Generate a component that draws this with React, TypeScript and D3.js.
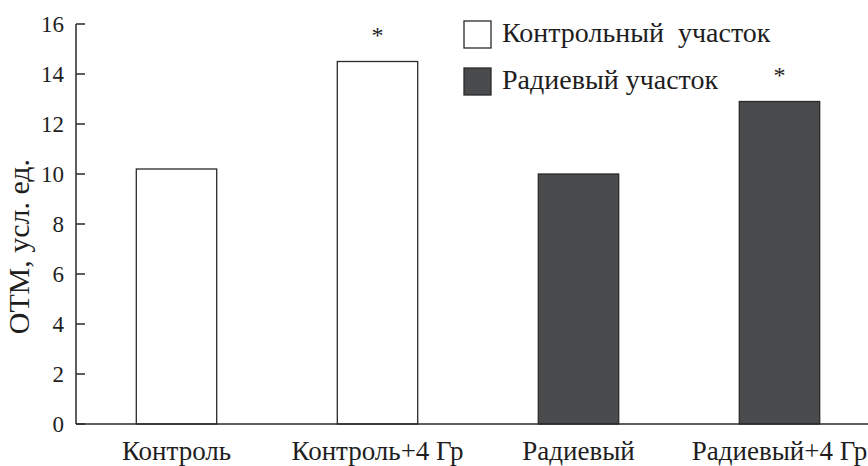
import React from "react";
import * as d3 from "d3";

const categories = ["Контроль", "Контроль+4 Гр", "Радиевый", "Радиевый+4 Гр"];
const values = [10.2, 14.5, 10.0, 12.9];
const groups = ["control", "control", "radium", "radium"];
const significant = [false, true, false, true];
const yTicks = [0, 2, 4, 6, 8, 10, 12, 14, 16];
const legendLabels = ["Контрольный  участок", "Радиевый участок"];
const legendGroups = ["control", "radium"];
const yTitle = "ОТМ, усл. ед.";

const W = 868;
const H = 466;
const FONT = '"Times New Roman", "Liberation Serif", Tinos, serif';
const fillFor = (g: string) => (g === "radium" ? "#4a4b4d" : "#ffffff");

export default function App() {
  const x = d3.scaleBand<string>().domain(categories).range([76, 880]).paddingInner(0.6).paddingOuter(0.3);
  const y = d3.scaleLinear().domain([0, 16]).range([424, 24]);
  const axisColor = "#2a2a2a";
  const txt = "#1e1e1e";
  const ts = (size: number) => ({ fontFamily: FONT, fontSize: size });
  return (
    <div style={{ position: "absolute", left: 0, top: 0 }}>
      <svg width={W} height={H} style={{ display: "block", background: "#fff" }}>
        {categories.map((c, i) => (
          <rect
            key={c}
            x={x(c)}
            y={y(values[i])}
            width={x.bandwidth()}
            height={y(0) - y(values[i])}
            fill={fillFor(groups[i])}
            stroke="#2a2a2a"
            strokeWidth={1.3}
          />
        ))}
        {categories.map((c, i) =>
          significant[i] ? (
            <text key={"s" + c} x={(x(c) as number) + x.bandwidth() / 2} y={y(values[i]) - 19} textAnchor="middle" style={ts(24)} fill={txt}>
              *
            </text>
          ) : null
        )}
        <line x1={76} x2={76} y1={y(16)} y2={y(0)} stroke={axisColor} strokeWidth={1.5} />
        <line x1={76} x2={W} y1={y(0)} y2={y(0)} stroke={axisColor} strokeWidth={1.5} />
        {yTicks.map((t) => (
          <g key={t}>
            <line x1={76} x2={85} y1={y(t)} y2={y(t)} stroke={axisColor} strokeWidth={1.5} />
            <text x={64} y={y(t) + 8} textAnchor="end" style={ts(23)} fill={txt}>
              {t}
            </text>
          </g>
        ))}
        {categories.map((c) => (
          <text key={"l" + c} x={(x(c) as number) + x.bandwidth() / 2} y={460} textAnchor="middle" style={ts(27)} fill={txt}>
            {c}
          </text>
        ))}
        <text transform={`translate(29, ${y(7.1)}) rotate(-90)`} textAnchor="middle" style={ts(30)} fill={txt}>
          {yTitle}
        </text>
        {legendLabels.map((l, i) => (
          <g key={l} transform={`translate(464, ${21 + i * 47})`}>
            <rect x={0} y={0} width={27} height={27} fill={fillFor(legendGroups[i])} stroke="#2a2a2a" strokeWidth={1.3} />
            <text x={38} y={21} style={{ ...ts(28), whiteSpace: "pre" }} fill={txt}>
              {l}
            </text>
          </g>
        ))}
      </svg>
    </div>
  );
}
